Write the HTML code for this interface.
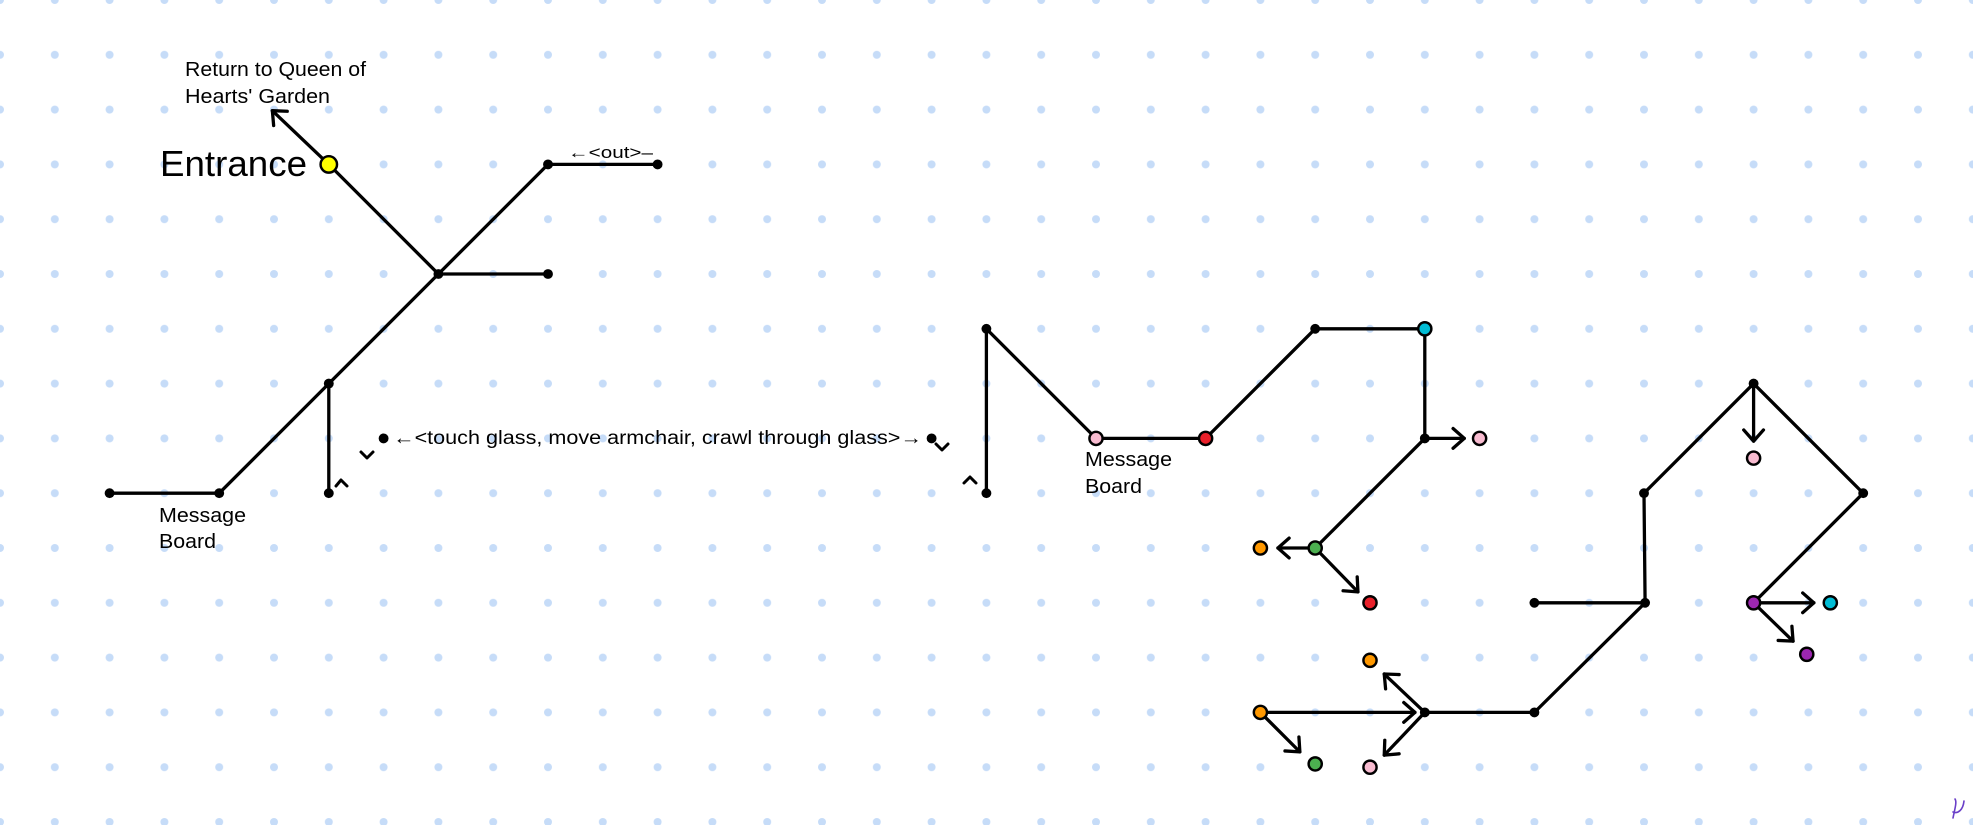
<!DOCTYPE html>
<html><head><meta charset="utf-8">
<style>
html,body{margin:0;padding:0;background:#fff;}
svg{display:block;}
text{font-family:"Liberation Sans",sans-serif;fill:#000;}
</style></head>
<body>
<svg width="1973" height="825" viewBox="0 0 1973 825" xmlns="http://www.w3.org/2000/svg">
<defs>
<pattern id="dots" x="0" y="0" width="54.8" height="54.8" patternUnits="userSpaceOnUse">
<circle cx="0" cy="0" r="4" fill="#c6dcf8"/><circle cx="54.8" cy="0" r="4" fill="#c6dcf8"/>
<circle cx="0" cy="54.8" r="4" fill="#c6dcf8"/><circle cx="54.8" cy="54.8" r="4" fill="#c6dcf8"/>
</pattern>
<marker id="ah" viewBox="-5 -4 6 8" markerWidth="6" markerHeight="8" refX="0" refY="0" orient="auto" markerUnits="strokeWidth">
<path d="M-3.4,-3 L0,0 L-3.4,3" fill="none" stroke="#000" stroke-width="1" stroke-linecap="round" stroke-linejoin="round"/>
</marker>
</defs>
<rect width="1973" height="825" fill="#fff"/>
<rect width="1973" height="825" fill="url(#dots)"/>

<g transform="scale(54.8)" stroke="#000" stroke-width="0.06" stroke-linecap="round" fill="none">
<polyline points="6,3 8,5 10,3 12,3"/>
<line x1="8" y1="5" x2="10" y2="5"/>
<polyline points="8,5 6,7 4,9 2,9"/>
<line x1="6" y1="7" x2="6" y2="9"/>
<line x1="6" y1="3" x2="4.97" y2="2.02" marker-end="url(#ah)"/>
<polyline points="18,9 18,6 20,8 22,8 24,6 26,6 26,8 24,10"/>
<line x1="26" y1="8" x2="26.72" y2="8" marker-end="url(#ah)"/>
<line x1="24" y1="10" x2="23.32" y2="10" marker-end="url(#ah)"/>
<line x1="24" y1="10" x2="24.78" y2="10.8" marker-end="url(#ah)"/>
<polyline points="30,9 32,7 34,9 32,11"/>
<polyline points="30,9 30.02,11 28,11"/>
<polyline points="30.02,11 28,13 26,13"/>
<line x1="32" y1="7" x2="32" y2="8.05" marker-end="url(#ah)"/>
<line x1="32" y1="11" x2="33.1" y2="11" marker-end="url(#ah)"/>
<line x1="32" y1="11" x2="32.72" y2="11.7" marker-end="url(#ah)"/>
<line x1="23" y1="13" x2="25.82" y2="13" marker-end="url(#ah)"/>
<line x1="23" y1="13" x2="23.72" y2="13.72" marker-end="url(#ah)"/>
<line x1="26" y1="13" x2="25.26" y2="12.3" marker-end="url(#ah)"/>
<line x1="26" y1="13" x2="25.26" y2="13.78" marker-end="url(#ah)"/>

<g fill="#000" stroke="none">
<circle cx="8" cy="5" r="0.09"/><circle cx="10" cy="3" r="0.09"/><circle cx="12" cy="3" r="0.09"/>
<circle cx="10" cy="5" r="0.09"/><circle cx="6" cy="7" r="0.09"/><circle cx="6" cy="9" r="0.09"/>
<circle cx="4" cy="9" r="0.09"/><circle cx="2" cy="9" r="0.09"/>
<circle cx="7" cy="8" r="0.09"/><circle cx="17" cy="8" r="0.09"/>
<circle cx="18" cy="6" r="0.09"/><circle cx="18" cy="9" r="0.09"/>
<circle cx="24" cy="6" r="0.09"/><circle cx="26" cy="8" r="0.09"/>
<circle cx="32" cy="7" r="0.09"/><circle cx="30" cy="9" r="0.09"/><circle cx="34" cy="9" r="0.09"/>
<circle cx="30.02" cy="11" r="0.09"/><circle cx="28" cy="11" r="0.09"/>
<circle cx="28" cy="13" r="0.09"/><circle cx="26" cy="13" r="0.09"/>
</g>
<g stroke-width="0.045">
<circle cx="6" cy="3" r="0.15" fill="#ffff00"/>
<circle cx="20" cy="8" r="0.12" fill="#f8bbd0"/>
<circle cx="22" cy="8" r="0.12" fill="#e8202a"/>
<circle cx="26" cy="6" r="0.12" fill="#00bcd4"/>
<circle cx="27" cy="8" r="0.12" fill="#f8bbd0"/>
<circle cx="24" cy="10" r="0.12" fill="#4caf50"/>
<circle cx="23" cy="10" r="0.12" fill="#ff9800"/>
<circle cx="25" cy="11" r="0.12" fill="#e8202a"/>
<circle cx="32" cy="8.36" r="0.12" fill="#f8bbd0"/>
<circle cx="32" cy="11" r="0.12" fill="#9c27b0"/>
<circle cx="33.4" cy="11" r="0.12" fill="#00bcd4"/>
<circle cx="32.97" cy="11.94" r="0.12" fill="#9c27b0"/>
<circle cx="23" cy="13" r="0.12" fill="#ff9800"/>
<circle cx="24" cy="13.94" r="0.12" fill="#4caf50"/>
<circle cx="25" cy="12.05" r="0.12" fill="#ff9800"/>
<circle cx="25" cy="14" r="0.12" fill="#f8bbd0"/>
</g>
</g>

<g stroke="#000" stroke-width="3" fill="none" stroke-linecap="round" stroke-linejoin="round">
<polyline points="336,486 341,480 347,486"/>
<polyline points="361,452 367,458 373,452"/>
<polyline points="936,444 942,450 948,444"/>
<polyline points="964,483 970,477 976,483"/>
</g>

<text x="185" y="76" font-size="20" textLength="181" lengthAdjust="spacingAndGlyphs">Return to Queen of</text>
<text x="185" y="103" font-size="20" textLength="145" lengthAdjust="spacingAndGlyphs">Hearts' Garden</text>
<text x="160" y="176" font-size="36" textLength="147" lengthAdjust="spacingAndGlyphs">Entrance</text>
<text x="568" y="158" font-size="17" textLength="85" lengthAdjust="spacingAndGlyphs">←&lt;out&gt;–</text>
<text x="159" y="522" font-size="20" textLength="87" lengthAdjust="spacingAndGlyphs">Message</text>
<text x="159" y="548" font-size="20" textLength="57" lengthAdjust="spacingAndGlyphs">Board</text>
<text x="393" y="444" font-size="19" textLength="529" lengthAdjust="spacingAndGlyphs">←&lt;touch glass, move armchair, crawl through glass&gt;→</text>
<text x="1085" y="466" font-size="20" textLength="87" lengthAdjust="spacingAndGlyphs">Message</text>
<text x="1085" y="493" font-size="20" textLength="57" lengthAdjust="spacingAndGlyphs">Board</text>

<path d="M1953,818 C1955,808 1957,802 1955,799 M1953,812 C1958,814 1963,810 1964,801" stroke="#6a3fc8" stroke-width="1.6" fill="none" stroke-linecap="round"/>
</svg>
</body></html>
